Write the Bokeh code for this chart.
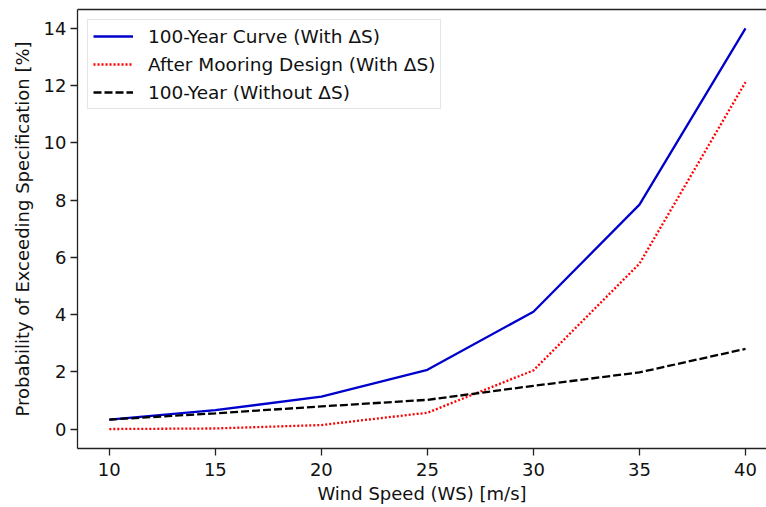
from bokeh.plotting import figure
from bokeh.models import LinearAxis, FixedTicker, Range1d, Legend, LegendItem
from bokeh.embed import file_html
from bokeh.resources import INLINE

wind_speed = [10, 15, 20, 25, 30, 35, 40]
curve_100yr_with_ds = [0.33, 0.66, 1.13, 2.07, 4.10, 7.84, 14.0]
after_mooring_with_ds = [0.0, 0.02, 0.14, 0.57, 2.05, 5.78, 12.12]
year100_without_ds = [0.33, 0.55, 0.79, 1.02, 1.51, 1.98, 2.80]

x_ticks = [10, 15, 20, 25, 30, 35, 40]
y_ticks = [0, 2, 4, 6, 8, 10, 12, 14]

FONT = "DejaVu Sans"

p = figure(width=766, height=507, output_backend="svg", toolbar_location=None,
           x_range=Range1d(8.5, 40.99), y_range=Range1d(-0.68, 14.66),
           min_border_left=77, min_border_top=9, min_border_bottom=59, min_border_right=0)

p.xgrid.visible = False
p.ygrid.visible = False
p.outline_line_color = None
p.background_fill_color = "white"
p.border_fill_color = "white"

r1 = p.line(wind_speed, curve_100yr_with_ds, line_color="#0000cd", line_width=2.3)
r2 = p.line(wind_speed, after_mooring_with_ds, line_color="red", line_width=2.3,
            line_dash="2 2", line_cap="butt")
r3 = p.line(wind_speed, year100_without_ds, line_color="black", line_width=2.3,
            line_dash="8 3")

for ax in (p.xaxis[0], p.yaxis[0]):
    ax.axis_line_color = "#222222"
    ax.axis_line_width = 1.3
    ax.major_tick_line_color = "#222222"
    ax.major_tick_line_width = 1.3
    ax.major_tick_out = 7
    ax.major_tick_in = 0
    ax.minor_tick_out = 0
    ax.minor_tick_in = 0
    ax.major_label_text_font = FONT
    ax.major_label_text_font_size = "18px"
    ax.major_label_text_color = "#111111"
    ax.axis_label_text_font = FONT
    ax.axis_label_text_font_size = "18px"
    ax.axis_label_text_font_style = "normal"
    ax.axis_label_text_color = "#111111"
    ax.major_label_standoff = 4

p.xaxis.ticker = FixedTicker(ticks=x_ticks)
p.yaxis.ticker = FixedTicker(ticks=y_ticks)
p.xaxis.axis_label = "Wind Speed (WS) [m/s]"
p.yaxis.axis_label = "Probability of Exceeding Specification [%]"
p.xaxis.major_label_standoff = 7
p.xaxis.axis_label_standoff = 4
p.yaxis.axis_label_standoff = 8

top = LinearAxis(ticker=FixedTicker(ticks=[]), major_label_text_font_size="0px",
                 major_tick_out=0, major_tick_in=0, minor_tick_out=0, minor_tick_in=0,
                 axis_line_color="#222222", axis_line_width=1.3)
p.add_layout(top, "above")

legend = Legend(items=[
    LegendItem(label="100-Year Curve (With ΔS)", renderers=[r1]),
    LegendItem(label="After Mooring Design (With ΔS)", renderers=[r2]),
    LegendItem(label="100-Year (Without ΔS)", renderers=[r3]),
], location="top_left")
legend.label_text_font = FONT
legend.label_text_font_size = "18.5px"
legend.label_text_color = "#111111"
legend.glyph_width = 40
legend.glyph_height = 22
legend.label_height = 22
legend.label_standoff = 15
legend.spacing = 6
legend.padding = 5
legend.margin = 10
legend.border_line_color = "#cccccc"
legend.border_line_width = 1
legend.background_fill_alpha = 0.8
p.add_layout(legend, "center")

open("out.html", "w").write(file_html(p, INLINE))
